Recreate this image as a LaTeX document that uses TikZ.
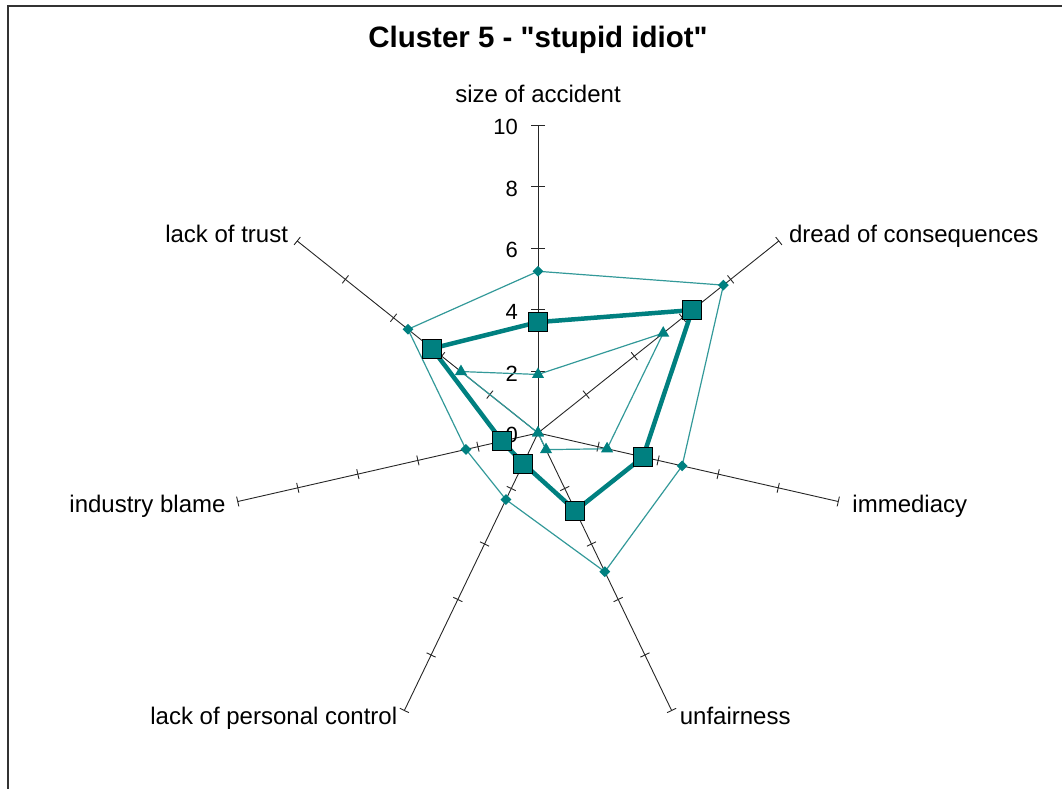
\documentclass[tikz,border=0pt]{standalone}
\usepackage{fontspec}
\setmainfont{Liberation Sans}
\usepackage{tikz}
\usetikzlibrary{shapes.geometric,positioning}
\definecolor{chartteal}{HTML}{008080}
\tikzset{
  axisline/.style    = {draw=black!85, line width=0.9pt},
  tickline/.style    = {draw=black!85, line width=0.9pt},
  axislabel/.style   = {font=\fontsize{24}{28}\selectfont, inner sep=0pt},
  valuelabel/.style  = {font=\fontsize{22}{26}\selectfont, inner sep=0pt, anchor=east},
  thinseries/.style  = {draw=chartteal!80, line width=1.2pt, line join=round},
  thickseries/.style = {draw=chartteal, line width=4.5pt, line join=round},
  diamondmark/.style = {diamond, fill=chartteal, inner sep=0pt, minimum size=11pt},
  trianglemark/.style = {regular polygon, regular polygon sides=3, fill=chartteal, inner sep=0pt, minimum size=14pt},
  squaremark/.style  = {rectangle, draw=black, line width=1pt, fill=chartteal, inner sep=0pt, minimum size=19pt}
}

% values per spoke, clockwise from "size of accident"
\def\seriesA{5.25,7.7,4.8,5.0,2.4,2.4,5.4}
\def\seriesB{3.6,6.4,3.5,2.8,1.1,1.2,4.4}
\def\seriesC{1.9,5.2,2.3,0.6,0,0,3.2}

\begin{document}
\begin{tikzpicture}[x=1pt, y=1pt]
\useasboundingbox (0,0) rectangle (1062,789);

% chart frame, cut off by the page at right and bottom
\draw[black!80, line width=2pt] (8,-20) -- (8,783) -- (1080,783);

\node[font=\bfseries\fontsize{29.5}{33}\selectfont, inner sep=0pt] (title) at (538,749) {Cluster 5 - \textquotedbl stupid idiot\textquotedbl};

\begin{scope}[shift={(538,356)}]
\coordinate (c) at (0,0);

% spokes with their tick marks
\foreach \i in {0,...,6} {
  \pgfmathsetmacro{\ang}{90-\i*360/7}
  \pgfmathsetmacro{\tl}{\i==0 ? 7 : 5}
  \coordinate (ax\i) at (\ang:308);
  \draw[axisline] (c) -- (ax\i);
  \foreach \k in {1,...,5}
    \draw[tickline, rotate=\ang] (\k*61.6,-\tl) -- (\k*61.6,\tl);
}

% scale on the vertical spoke
\foreach \v in {0,2,...,10}
  \node[valuelabel] (val\v) at (-20,\v*30.8-2) {\v};

% spoke names
\node[axislabel, anchor=base] (lblSize) at ([yshift=22pt]ax0) {size of accident};
\node[axislabel, anchor=base west] (lblDread) at ([shift={(10pt,-2pt)}]ax1) {dread of consequences};
\node[axislabel, anchor=base west] (lblImm) at ([shift={(14pt,-11pt)}]ax2) {immediacy};
\node[axislabel, anchor=base west] (lblUnfair) at ([shift={(8pt,-14pt)}]ax3) {unfairness};
\node[axislabel, anchor=base east] (lblControl) at ([shift={(-7pt,-14pt)}]ax4) {lack of personal control};
\node[axislabel, anchor=base east] (lblBlame) at ([shift={(-12pt,-11pt)}]ax5) {industry blame};
\node[axislabel, anchor=base east] (lblTrust) at ([shift={(-9pt,-2pt)}]ax6) {lack of trust};

% data points
\foreach \r [count=\i from 0] in \seriesA
  \coordinate (pa\i) at ({90-\i*360/7}:{\r*30.8});
\foreach \r [count=\i from 0] in \seriesB
  \coordinate (pb\i) at ({90-\i*360/7}:{\r*30.8});
\foreach \r [count=\i from 0] in \seriesC
  \coordinate (pc\i) at ({90-\i*360/7}:{\r*30.8});

% the three polygons
\draw[thinseries] (pa0) \foreach \i in {1,...,6} { -- (pa\i) } -- cycle;
\draw[thinseries] (pc0) \foreach \i in {1,...,6} { -- (pc\i) } -- cycle;
\foreach \i in {0,...,6}
  \node[diamondmark] (ma\i) at (pa\i) {};
\foreach \i in {0,...,6}
  \node[trianglemark] (mc\i) at (pc\i) {};
\draw[thickseries] (pb0) \foreach \i in {1,...,6} { -- (pb\i) } -- cycle;
\foreach \i in {0,...,6}
  \node[squaremark] (mb\i) at (pb\i) {};
\end{scope}
\end{tikzpicture}
\end{document}
